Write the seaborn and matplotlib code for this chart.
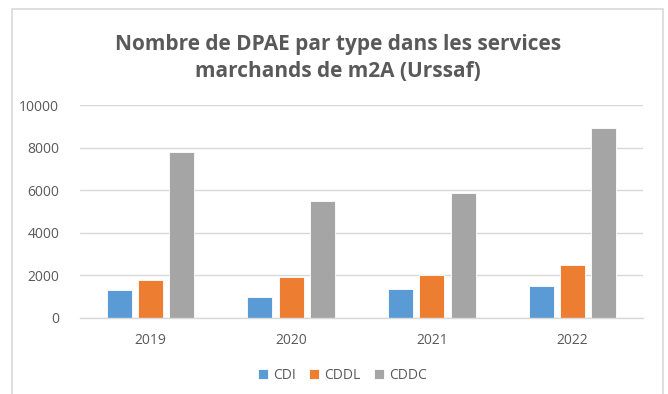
import matplotlib
matplotlib.use("Agg")
import matplotlib.pyplot as plt
from matplotlib.patches import Rectangle
import seaborn as sns
import pandas as pd

annees = ["2019", "2020", "2021", "2022"]
types = ["CDI", "CDDL", "CDDC"]
cdi = [1300, 1000, 1380, 1505]
cddl = [1800, 1930, 2040, 2490]
cddc = [7810, 5500, 5890, 8900]
couleurs = ["#5B9BD5", "#ED7D31", "#A5A5A5"]
yticks = [0, 2000, 4000, 6000, 8000, 10000]

rows = []
for t, vals in zip(types, [cdi, cddl, cddc]):
    for a, v in zip(annees, vals):
        rows.append({"annee": a, "type": t, "valeur": v})
df = pd.DataFrame(rows)

sns.set_theme(style="white")
plt.rcParams["font.family"] = ["Open Sans", "DejaVu Sans"]
txt = "#595959"

fig = plt.figure(figsize=(6.68, 3.94), dpi=100)
ax = fig.add_axes([0.1198, 0.1929, 0.8428, 0.5406])

sns.barplot(data=df, x="annee", y="valeur", hue="type", order=annees,
            hue_order=types, palette=couleurs, width=0.667, gap=0.2,
            edgecolor="white", linewidth=0.6, saturation=1, ax=ax)

ax.set_ylim(0, 10000)
ax.set_yticks(yticks)
ax.set_yticklabels([str(v) for v in yticks])
ax.yaxis.grid(True, color="#D9D9D9", linewidth=1)
ax.set_axisbelow(True)
for s in ["top", "right", "left"]:
    ax.spines[s].set_visible(False)
ax.spines["bottom"].set_color("#D9D9D9")
ax.spines["bottom"].set_linewidth(1)
ax.tick_params(axis="both", length=0, labelsize=10, labelcolor=txt)
ax.tick_params(axis="y", pad=15)
ax.tick_params(axis="x", pad=11)
ax.set_xlabel("")
ax.set_ylabel("")

ax.legend(loc="upper center", bbox_to_anchor=(0.466, -0.175), ncol=3,
          frameon=False, fontsize=10, handlelength=0.7, handleheight=0.7,
          columnspacing=1.0, handletextpad=0.35, labelcolor=txt)

fig.text(0.506, 0.853, "Nombre de DPAE par type dans les services\nmarchands de m2A (Urssaf)",
         ha="center", va="center", fontsize=15, fontweight="bold", color=txt,
         linespacing=1.42)

fig.patches.append(Rectangle((12.5 / 668, -0.05), (663 - 12.5) / 668, 1 - 9 / 394 + 0.05,
                             transform=fig.transFigure, fill=False,
                             edgecolor="#D9D9D9", linewidth=1.2, clip_on=False))

fig.savefig("out.png", dpi=100)
